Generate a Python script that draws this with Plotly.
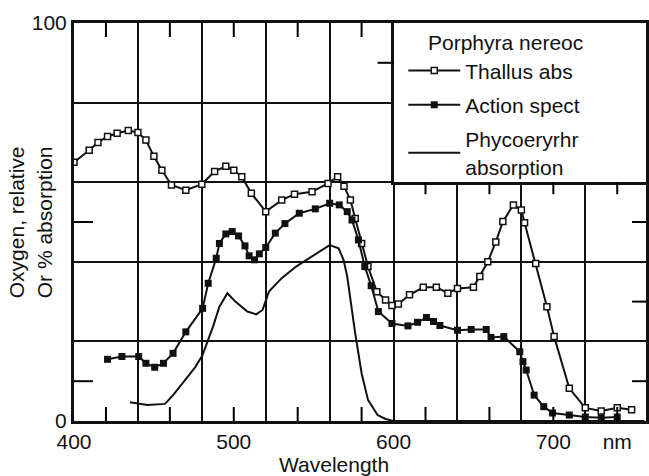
import plotly.graph_objects as go

# ---- data ----
thallus_nm = [400, 409.5, 415, 421, 427, 434, 440, 445, 450, 455, 461, 470, 480, 488, 495, 500,
              505, 511, 520, 530, 538, 549, 559, 565, 569, 573, 576, 580, 584, 589.5, 595, 599,
              603, 610, 618.6, 626.8, 634, 640, 650, 654, 659, 664, 668.4, 675, 680, 682, 689,
              696, 700.5, 710, 720, 730, 740, 749]
thallus_val = [65, 68, 70, 71.5, 72.3, 73, 72.5, 70.6, 66.5, 63, 59.3, 58, 59.5, 62.7, 64, 63,
               61.4, 57.2, 52.6, 55.5, 57, 57.6, 59.7, 61.4, 59, 55.5, 50.9, 44.6, 38.8, 32.5, 30.4, 29,
               29.4, 31.7, 33.6, 33.6, 32.1, 33.3, 33.6, 36.3, 40, 45, 50.1, 54.3, 53, 49.8, 39.6,
               28.7, 21.2, 8.2, 3.3, 2.5, 3.3, 2.8]

action_nm = [421, 430, 440.5, 445, 450.5, 456, 462, 470, 480.5, 484, 489, 491, 495, 499, 503,
             507, 509.6, 513, 516, 520, 526, 532, 541, 551, 560, 566, 571, 574, 578, 582, 586,
             590.5, 599, 609, 615, 620.6, 625, 629, 640, 648.6, 658, 661, 669, 679, 681, 683,
             688, 694, 699.5, 710, 720, 730, 740]
action_val = [15.5, 16.2, 16.2, 14.5, 13.5, 14.5, 17, 22.4, 28.3, 34.6, 40.9, 44.6, 47, 47.6, 46.5,
              44, 41.5, 40.5, 42, 43.6, 47.2, 49.6, 52.2, 53.3, 54.7, 54.3, 52.6, 50.5, 45.5, 38.8, 34,
              27.5, 24.5, 23.9, 24.8, 26, 25, 24, 22.8, 23, 23, 21, 21.2, 17.4, 14.9, 12.8,
              6.5, 3.6, 2, 1.5, 1, 0.8, 1]

phyco_nm = [435, 441, 446, 457, 462, 468, 476, 480.5, 484, 487, 491, 496, 501, 508.5, 514, 518,
            522, 530, 539, 549, 560, 565.6, 568.7, 571, 573, 576, 580, 584, 590, 595, 600, 757]
phyco_val = [4.7, 4.4, 4.0, 4.3, 6.5, 9.5, 13.6, 16.6, 20.4, 23.7, 28.7, 32.1, 30, 27.5, 26.8, 27.9,
             32.5, 35.9, 38.8, 41.3, 44.2, 43.4, 40.5, 36.3, 30.4, 22, 12, 5.3, 1.5, 0.5, 0, 0]

x_label_vals = [400, 500, 600, 700, 740]
x_label_text = ["400", "500", "600", "700", "nm"]
y_label_vals = [0, 20, 40, 60, 80, 100]
y_label_text = ["0", "", "", "", "", "100"]

# small tick marks of the original frame
bottom_tick_x = [420, 460, 500, 540, 580, 620, 660, 700, 740]
top_tick_x = [420, 460, 500, 540, 580]
inset_tick_x = [620, 660, 700, 740]
left_tick_y = [10, 50]
right_tick_y = [10, 30, 50]
inset_tick_y = [90]

X_MIN, X_MAX = 400, 758
INK = "#111111"
FONT = "Liberation Sans, Arial, Helvetica, sans-serif"
FS = 21
PLOT_W, PLOT_H = 575, 398   # plot-area size in px

fig = go.Figure()
fig.add_trace(go.Scatter(
    x=thallus_nm, y=thallus_val, mode="lines+markers", name="Thallus abs",
    line=dict(color=INK, width=2),
    marker=dict(symbol="square", size=6, color="white", line=dict(color=INK, width=1.5)),
    legendgroup="a"))
fig.add_trace(go.Scatter(
    x=action_nm, y=action_val, mode="lines+markers", name="Action spect",
    line=dict(color=INK, width=2),
    marker=dict(symbol="square", size=7, color=INK),
    legendgroup="b"))
fig.add_trace(go.Scatter(
    x=phyco_nm, y=phyco_val, mode="lines", name="Phycoeryrhr<br>absorption",
    line=dict(color=INK, width=2), legendgroup="c"))

inset_x0 = (600 - X_MIN) / (X_MAX - X_MIN)

tick_line = dict(color="#000000", width=2)
shapes = []
for v in bottom_tick_x:
    shapes.append(dict(type="line", xref="x", yref="paper", x0=v, x1=v,
                       y0=0, y1=14 / PLOT_H, line=tick_line, layer="above"))
for v in top_tick_x:
    shapes.append(dict(type="line", xref="x", yref="paper", x0=v, x1=v,
                       y0=1, y1=1 - 14 / PLOT_H, line=tick_line, layer="above"))
for v in inset_tick_x:
    shapes.append(dict(type="line", xref="x", yref="paper", x0=v, x1=v,
                       y0=0.6, y1=0.6 - 12 / PLOT_H, line=tick_line, layer="above"))
for v in left_tick_y:
    shapes.append(dict(type="line", xref="paper", yref="y", y0=v, y1=v,
                       x0=0, x1=19 / PLOT_W, line=tick_line, layer="above"))
for v in right_tick_y:
    shapes.append(dict(type="line", xref="paper", yref="y", y0=v, y1=v,
                       x0=1, x1=1 - 14 / PLOT_W, line=tick_line, layer="above"))
for v in inset_tick_y:
    shapes.append(dict(type="line", xref="paper", yref="y", y0=v, y1=v,
                       x0=inset_x0, x1=inset_x0 - 16 / PLOT_W, line=tick_line, layer="above"))

fig.update_layout(
    width=649, height=476,
    margin=dict(l=74, r=0, t=23, b=55),
    paper_bgcolor="white", plot_bgcolor="white",
    font=dict(family=FONT, size=FS, color=INK),
    showlegend=True,
    legend=dict(
        x=(405 - 74) / 575, y=(421 - 23) / 398, xanchor="left", yanchor="top",
        bgcolor="rgba(0,0,0,0)", borderwidth=0,
        title=dict(text="Porphyra nereoc", side="top right", font=dict(size=FS)),
        font=dict(size=FS), traceorder="grouped", tracegroupgap=4,
        itemwidth=52,
    ),
    xaxis=dict(
        range=[X_MIN, X_MAX], tickmode="linear", tick0=400, dtick=40,
        showgrid=True, gridcolor=INK, gridwidth=2, zeroline=False,
        ticks="", showticklabels=False,
        showline=True, linecolor=INK, linewidth=3, mirror=True,
    ),
    xaxis2=dict(
        overlaying="x", anchor="y", side="bottom", range=[X_MIN, X_MAX],
        tickmode="array", tickvals=x_label_vals, ticktext=x_label_text,
        ticks="", showgrid=False, zeroline=False, showline=False,
        ticklabelstandoff=6, tickfont=dict(size=FS),
    ),
    yaxis=dict(
        range=[0, 100], tickmode="array", tickvals=y_label_vals, ticktext=y_label_text,
        showgrid=True, gridcolor=INK, gridwidth=2, zeroline=False, ticks="",
        showline=True, linecolor=INK, linewidth=3, mirror=True,
        tickfont=dict(size=FS),
    ),
    xaxis3=dict(
        domain=[inset_x0, 1], anchor="y2", range=[600, X_MAX],
        ticks="", showticklabels=False, showgrid=False,
        zeroline=False, showline=True, linecolor=INK, linewidth=3, mirror=True,
    ),
    yaxis2=dict(
        domain=[0.6, 1], anchor="x3", range=[60, 100],
        ticks="", showticklabels=False, showgrid=False,
        zeroline=False, showline=True, linecolor=INK, linewidth=3, mirror=True,
    ),
    shapes=shapes,
    annotations=[
        dict(text="Wavelength", xref="paper", yref="paper",
             x=(335 - 74) / 575, y=(421 - 464) / 398, xanchor="center", yanchor="middle",
             showarrow=False, font=dict(size=FS)),
        dict(text="Oxygen, relative<br>Or % absorption", xref="paper", yref="paper",
             x=(30 - 74) / 575, y=0.5, xanchor="center", yanchor="middle",
             textangle=-90, showarrow=False, font=dict(size=FS)),
    ],
)

# invisible placeholders so the label axis and the legend-box axes exist
fig.add_trace(go.Scatter(x=[None], y=[None], xaxis="x2", yaxis="y", showlegend=False, hoverinfo="skip"))
fig.add_trace(go.Scatter(x=[None], y=[None], xaxis="x3", yaxis="y2", showlegend=False, hoverinfo="skip"))

fig.write_html("out.html")
